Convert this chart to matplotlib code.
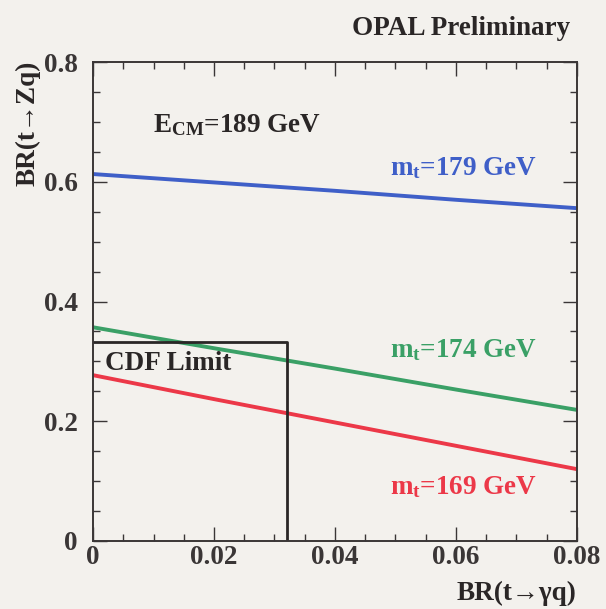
import numpy as np
import matplotlib.pyplot as plt
from matplotlib.ticker import MultipleLocator

plt.rcParams["font.family"] = ["Liberation Serif", "DejaVu Serif"]
plt.rcParams["font.weight"] = "bold"
plt.rcParams["mathtext.fontset"] = "custom"
plt.rcParams["mathtext.rm"] = "Liberation Serif:bold"
plt.rcParams["mathtext.it"] = "Liberation Serif:bold"
plt.rcParams["mathtext.bf"] = "Liberation Serif:bold"

# BR(t->gamma q) grid and BR(t->Zq) limits for three top masses
br_gq = [0.0, 0.02, 0.04, 0.06, 0.08]
br_zq_179 = [0.613, 0.599, 0.585, 0.570, 0.556]
br_zq_174 = [0.357, 0.322, 0.288, 0.253, 0.219]
br_zq_169 = [0.277, 0.237, 0.198, 0.159, 0.120]

# CDF limit box
cdf_gq = 0.032
cdf_zq = 0.332

x_ticks = [0, 0.02, 0.04, 0.06, 0.08]
x_labels = ["0", "0.02", "0.04", "0.06", "0.08"]
y_ticks = [0, 0.2, 0.4, 0.6, 0.8]
y_labels = ["0", "0.2", "0.4", "0.6", "0.8"]

bg = "#f3f1ed"
ink = "#2a2626"
fs = 19.5

fig = plt.figure(figsize=(6.06, 6.09), dpi=100, facecolor=bg)
ax = fig.add_axes([0.1535, 0.1117, 0.7985, 0.7863], facecolor=bg)

ax.plot(br_gq, br_zq_179, color="#3f5fc8", lw=2.8, solid_capstyle="butt")
ax.plot(br_gq, br_zq_174, color="#3aa066", lw=2.8, solid_capstyle="butt")
ax.plot(br_gq, br_zq_169, color="#ec3848", lw=2.8, solid_capstyle="butt")
ax.plot([0, cdf_gq, cdf_gq], [cdf_zq, cdf_zq, 0], color=ink, lw=2.0)

ax.set_xlim(0, 0.08)
ax.set_ylim(0, 0.8)
ax.set_xticks(x_ticks)
ax.set_xticklabels(x_labels)
ax.set_yticks(y_ticks)
ax.set_yticklabels(y_labels)
ax.xaxis.set_minor_locator(MultipleLocator(0.005))
ax.yaxis.set_minor_locator(MultipleLocator(0.05))
ax.tick_params(which="both", direction="in", top=True, right=True,
               labelsize=fs, colors="#3a3636", width=1.0)
ax.tick_params(which="major", length=10)
ax.tick_params(which="minor", length=5)
ax.tick_params(axis="x", pad=3)
ax.tick_params(axis="y", pad=11)
for s in ax.spines.values():
    s.set_color("#3a3636")
    s.set_linewidth(1.4)

ax.text(0.0099, 0.694, r"E$_{\rm CM}$=189 GeV", fontsize=fs, color=ink,
        va="center")
ax.text(0.0734, 0.623, r"m$_{\rm t}$=179 GeV", fontsize=fs, color="#3f5fc8",
        ha="right", va="center")
ax.text(0.0734, 0.319, r"m$_{\rm t}$=174 GeV", fontsize=fs, color="#3aa066",
        ha="right", va="center")
ax.text(0.0734, 0.090, r"m$_{\rm t}$=169 GeV", fontsize=fs, color="#ec3848",
        ha="right", va="center")
ax.text(0.0020, 0.297, "CDF Limit", fontsize=fs, color=ink, va="center")

fig.text(0.9406, 0.954, "OPAL Preliminary", fontsize=fs, color=ink,
         ha="right", va="center")
fig.text(0.046, 0.901, "BR(t→Zq)", fontsize=fs, color=ink,
         rotation=90, ha="center", va="top")
fig.text(0.952, 0.026, "BR(t→γq)", fontsize=fs, color=ink,
         ha="right", va="center")

fig.savefig("out.png", dpi=100, facecolor=bg)
